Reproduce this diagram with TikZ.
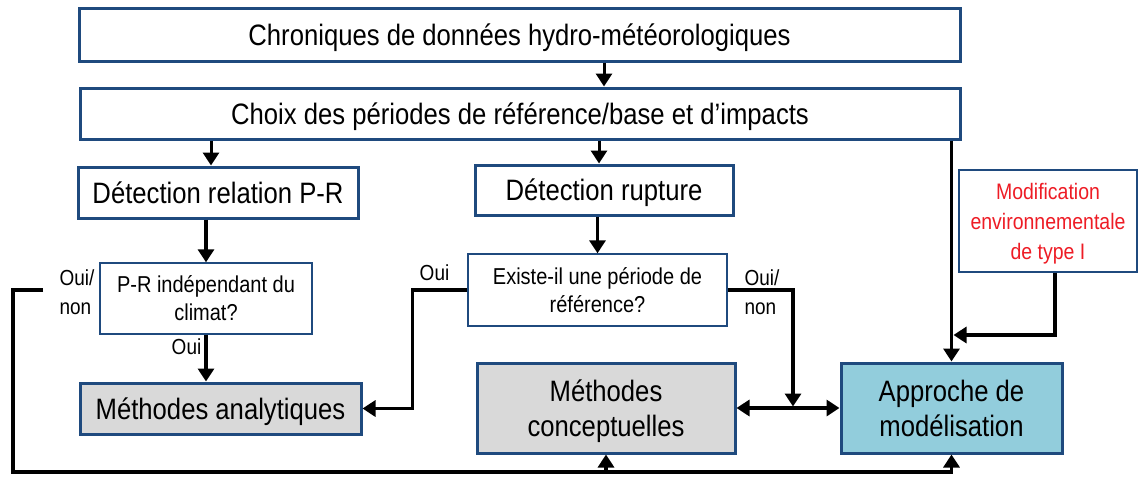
\documentclass[tikz,border=0pt]{standalone}
\usepackage{fontspec}
\setmainfont[FakeStretch=0.87]{Liberation Sans}
\usetikzlibrary{arrows.meta}
\definecolor{boxblue}{HTML}{1F4A7E}
\definecolor{boxgrey}{HTML}{D9D9D9}
\definecolor{boxcyan}{HTML}{92CDDC}
\definecolor{modred}{HTML}{EE1C25}
\newcommand\fsbig{\fontsize{29.5}{35}\selectfont}
\newcommand\fssmall{\fontsize{23}{28}\selectfont}
\newcommand\fslab{\fontsize{21.8}{29}\selectfont}
\begin{document}
\begin{tikzpicture}[x=1pt,y=-1pt,
  box/.style={draw=boxblue, fill=white, inner sep=0pt, align=center, anchor=center, text depth=0pt},
  bigbox/.style={box, line width=3pt, font=\fsbig},
  smallbox/.style={box, line width=1.4pt, font=\fssmall},
  conn/.style={line width=3.5pt, line join=miter, -{Triangle[length=13pt,width=16pt]}},
  dconn/.style={line width=3.5pt, {Triangle[length=13pt,width=16pt]}-{Triangle[length=13pt,width=16pt]}},
  lab/.style={font=\fslab, inner sep=0pt, align=left}]
\useasboundingbox (0,0) rectangle (1139,477);

% nodes
\node[bigbox, minimum width=881pt, minimum height=53pt] (chron) at (519.5,34.5) {Chroniques de données hydro-météorologiques};
\node[bigbox, minimum width=880pt, minimum height=51pt] (choix) at (520,113.5) {Choix des périodes de référence/base et d’impacts};
\node[bigbox, minimum width=280pt, minimum height=51pt] (dpr) at (218,192.5) {Détection relation P-R};
\node[bigbox, minimum width=258pt, minimum height=50pt] (drup) at (604,190) {Détection rupture};
\node[smallbox, minimum width=212pt, minimum height=71pt] (pr) at (206,298.5) {P-R indépendant du\\climat?};
\node[smallbox, minimum width=259pt, minimum height=72pt] (exist) at (597.5,290) {Existe-il une période de\\référence?};
\node[smallbox, minimum width=178pt, minimum height=102pt, text=modred, font=\fontsize{22.4}{30}\selectfont] (modif) at (1048,221) {Modification\\environnementale\\de type I};
\node[bigbox, fill=boxgrey, minimum width=281pt, minimum height=51pt] (ana) at (220.5,408.5) {Méthodes analytiques};
\node[bigbox, fill=boxgrey, minimum width=258pt, minimum height=90pt] (concept) at (606,408) {Méthodes\\conceptuelles};
\node[bigbox, fill=boxcyan, minimum width=221pt, minimum height=90pt] (appr) at (951.5,408) {Approche de\\modélisation};

% labels
\node[lab] (l1) at (77,292.5) {Oui/\\non};
\node[lab] (l2) at (186.5,347) {Oui};
\node[lab] (l3) at (434.5,273) {Oui};
\node[lab] (l4) at (762,292.5) {Oui/\\non};

% helper coordinates
\coordinate (loopstart) at (43,290);
\coordinate (loopcorner) at (13,472);
\coordinate (junc) at (793,406.5);
\coordinate (mjoin) at (953.5,335);

% connectors
\draw[conn, line width=3pt] (chron.south -| drup) -- (choix.north -| drup);
\draw[conn, line width=3pt] ([xshift=-7pt]choix.south -| dpr) -- ([xshift=-7pt]dpr.north);
\draw[conn, line width=3pt] ([xshift=-5pt]choix.south -| drup) -- ([xshift=-5pt]drup.north);
\draw[conn] (choix.south -| appr) -- (appr.north);
\draw[conn] (dpr.south -| pr) -- (pr.north);
\draw[conn] (pr.south) -- (ana.north -| pr);
\draw[conn] (drup.south -| exist) -- (exist.north);
\draw[conn] (exist.west) -- ++(-55,0) |- (ana.east);
\draw[conn] (exist.east) -| (junc);
\draw[dconn] (concept.east) -- (appr.west);
\draw[conn] ([xshift=7pt]modif.south) |- (mjoin);
\draw[conn] (loopstart) -| (loopcorner) -| (appr.south);
\draw[conn] (concept.south |- loopcorner) -- (concept.south);
\end{tikzpicture}
\end{document}
